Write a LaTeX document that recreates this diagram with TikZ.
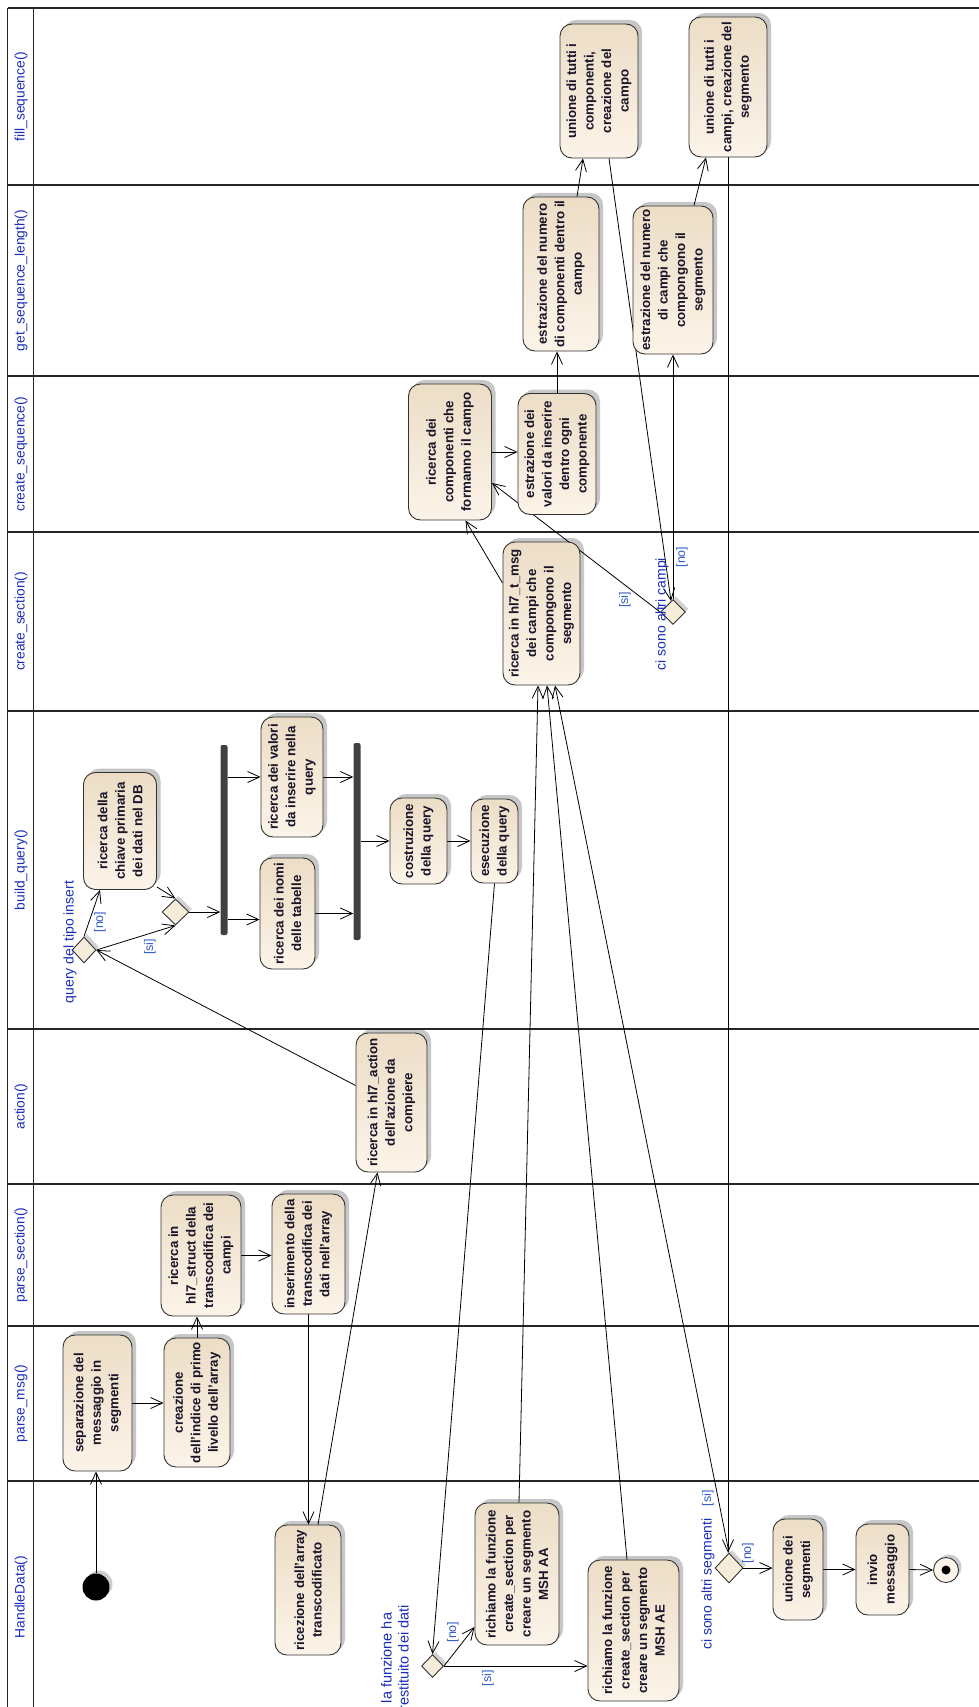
\documentclass[tikz,border=0pt]{standalone}
\usepackage{fontspec}
\setmainfont{Liberation Sans}
\usetikzlibrary{arrows.meta,shapes.geometric,shadows,calc}
\definecolor{boxtop}{RGB}{236,221,198}
\definecolor{boxbot}{RGB}{252,244,233}
\definecolor{boxborder}{RGB}{50,50,50}
\definecolor{decfill}{RGB}{246,236,218}
\definecolor{barcol}{RGB}{64,64,64}
\definecolor{lanecol}{RGB}{25,45,185}
\definecolor{guardcol}{RGB}{45,90,200}
\definecolor{nodetext}{RGB}{25,20,40}
\pgfdeclarelayer{bg}
\pgfsetlayers{bg,main}
\tikzset{
  actbox/.style={rectangle, rounded corners=12pt, draw=boxborder, line width=0.9pt,
    top color=boxtop, bottom color=boxbot, inner sep=0pt,
    drop shadow={shadow xshift=4pt, shadow yshift=4pt, fill=black, opacity=0.22}},
  atext/.style={rotate=90, align=center, font=\fontsize{13.3}{17.5}\selectfont\bfseries,
    text=nodetext, inner sep=0pt},
  dec/.style={diamond, draw=boxborder, line width=0.9pt, fill=decfill, inner sep=0pt,
    drop shadow={shadow xshift=3pt, shadow yshift=3pt, fill=black, opacity=0.18}},
  flow/.style={draw=black, line width=0.8pt, -{Straight Barb[length=12pt,width=11pt]}},
  guard/.style={rotate=90, font=\fontsize{12.5}{14}\selectfont, text=guardcol, inner sep=0pt},
  dlabel/.style={rotate=90, align=center, font=\fontsize{14}{17}\selectfont, text=lanecol, inner sep=0pt},
  lname/.style={rotate=90, font=\fontsize{13.8}{16}\selectfont, text=lanecol, inner sep=0pt},
  barbox/.style={rectangle, fill=barcol, rounded corners=2pt, inner sep=0pt, minimum width=7pt},
  laneline/.style={draw=black!85, line width=1.5pt}
}
\begin{document}
\begin{tikzpicture}[x=1pt,y=-1pt]
\useasboundingbox (0,0) rectangle (979,1707);
\clip (0,0) rectangle (979,1707);

% ---------- lane names
\node[lname] (n1) at (21,96.5) {fill\_sequence()};
\node[lname] (n2) at (21,280.5) {get\_sequence\_length()};
\node[lname] (n3) at (21,454) {create\_sequence()};
\node[lname] (n4) at (21,621.5) {create\_section()};
\node[lname] (n5) at (21,870) {build\_query()};
\node[lname] (n6) at (21,1106.5) {action()};
\node[lname] (n7) at (21,1255) {parse\_section()};
\node[lname] (n8) at (21,1403.5) {parse\_msg()};
\node[lname] (n9) at (21,1597) {HandleData()};

% ---------- activity boxes
\node[actbox, minimum width=78pt, minimum height=134pt] (u1) at (599,91) {};
\node[atext] (u1t) at (u1) {unione di tutti i\\componenti,\\creazione del\\campo};
\node[actbox, minimum width=78pt, minimum height=140pt] (u2) at (728,87) {};
\node[atext] (u2t) at (u2) {unione di tutti i\\campi, creazione del\\segmento};
\node[actbox, minimum width=76pt, minimum height=154pt] (e1) at (561,274) {};
\node[atext] (e1t) at (e1) {estrazione del numero\\di componenti dentro il\\campo};
\node[actbox, minimum width=80pt, minimum height=148pt] (e2) at (673,280) {};
\node[atext] (e2t) at (e2) {estrazione del numero\\di campi che\\compongono il\\segmento};
\node[actbox, minimum width=83pt, minimum height=136pt] (r1) at (450,452) {};
\node[atext] (r1t) at (r1) {ricerca dei\\componenti che\\formanno il campo};
\node[actbox, minimum width=78pt, minimum height=121pt] (r2) at (557,454) {};
\node[atext] (r2t) at (r2) {estrazione dei\\valori da inserire\\dentro ogni\\componente};
\node[actbox, minimum width=77pt, minimum height=143pt] (c1) at (541.5,613.5) {};
\node[atext] (c1t) at (c1) {ricerca in hl7\_t\_msg\\dei campi che\\compongono il\\segmento};
\node[actbox, minimum width=73pt, minimum height=117pt] (ch) at (120,831) {};
\node[atext] (cht) at (ch) {ricerca della\\chiave primaria\\dei dati nel DB};
\node[actbox, minimum width=62pt, minimum height=120pt] (val) at (292,777) {};
\node[atext] (valt) at (val) {ricerca dei valori\\da inserire nella\\query};
\node[actbox, minimum width=55pt, minimum height=111pt] (nom) at (287.5,913.5) {};
\node[atext] (nomt) at (nom) {ricerca dei nomi\\delle tabelle};
\node[actbox, minimum width=57pt, minimum height=86pt] (cos) at (418.5,841) {};
\node[atext] (cost) at (cos) {costruzione\\della query};
\node[actbox, minimum width=47pt, minimum height=84pt] (ese) at (494.5,841) {};
\node[atext] (eset) at (ese) {esecuzione\\della query};
\node[actbox, minimum width=71pt, minimum height=139pt] (actn) at (391.5,1102.5) {};
\node[atext] (actt) at (actn) {ricerca in hl7\_action\\dell'azione da\\compiere};
\node[actbox, minimum width=80pt, minimum height=121pt] (hst) at (201,1255.5) {};
\node[atext] (hstt) at (hst) {ricerca in\\hl7\_struct della\\transcodifica dei\\campi};
\node[actbox, minimum width=73pt, minimum height=120pt] (ins) at (308.5,1254) {};
\node[atext] (inst) at (ins) {inserimento della\\transcodifica dei\\dati nell'array};
\node[actbox, minimum width=69pt, minimum height=136pt] (sep) at (97.5,1403) {};
\node[atext] (sept) at (sep) {separazione del\\messaggio in\\segmenti};
\node[actbox, minimum width=66pt, minimum height=129pt] (cre) at (197,1402.5) {};
\node[atext] (cret) at (cre) {creazione\\dell'indice di primo\\livello dell'array};
\node[actbox, minimum width=66pt, minimum height=130pt] (ric) at (308,1590) {};
\node[atext] (rict) at (ric) {ricezione dell'array\\transcodificato};
\node[actbox, minimum width=84pt, minimum height=142pt] (maa) at (517,1574) {};
\node[atext] (maat) at (maa) {richiamo la funzione\\create\_section per\\creare un segmento\\MSH AA};
\node[actbox, minimum width=91pt, minimum height=141pt] (mae) at (633.5,1630.5) {};
\node[atext] (maet) at (mae) {richiamo la funzione\\create\_section per\\creare un segmento\\MSH AE};
\node[actbox, minimum width=50pt, minimum height=101pt] (uni) at (798,1569.5) {};
\node[atext] (unit) at (uni) {unione dei\\segmenti};
\node[actbox, minimum width=53pt, minimum height=91pt] (inv) at (882.5,1569.5) {};
\node[atext] (invt) at (inv) {invio\\messaggio};

% ---------- decisions, bars, start/end
\node[dec, minimum width=24pt, minimum height=26pt] (d1) at (84,950) {};
\node[dec, minimum width=27pt, minimum height=26pt] (d5) at (175.5,912) {};
\node[dec, minimum width=25pt, minimum height=25pt] (d2) at (673,612) {};
\node[dec, minimum width=22pt, minimum height=23pt] (d3) at (432.5,1666) {};
\node[dec, minimum width=28pt, minimum height=30pt] (d4) at (729,1568) {};
\node[barbox, minimum height=190pt] (fork1) at (224,840) {};
\node[barbox, minimum height=197pt] (join) at (357,841.5) {};
\node[circle, fill=black, minimum width=26pt, minimum height=27pt, inner sep=0pt,
  drop shadow={shadow xshift=3pt, shadow yshift=3pt, fill=black, opacity=0.2}] (init) at (96,1587) {};
\node[circle, draw=boxborder, line width=0.9pt, fill=boxbot, minimum size=25pt, inner sep=0pt,
  drop shadow={shadow xshift=3pt, shadow yshift=3pt, fill=black, opacity=0.2}] (fin) at (946,1570) {};
\node[circle, fill=black, minimum size=9pt, inner sep=0pt] (fdot) at (fin) {};

% ---------- guard and decision labels
\node[guard] (g1) at (100,922) {[no]};
\node[guard] (g2) at (150,947) {[si]};
\node[guard] (g3) at (453,1632) {[no]};
\node[guard] (g4) at (488,1678) {[si]};
\node[guard] (g5) at (682,557) {[no]};
\node[guard] (g6) at (625,600) {[si]};
\node[guard] (g7) at (708,1498) {[si]};
\node[guard] (g8) at (748,1553) {[no]};
\node[dlabel] (l1) at (70,942) {query del tipo insert};
\node[dlabel] (l2) at (662,614) {ci sono altri campi};
\node[dlabel] (l3) at (708,1584) {ci sono altri segmenti};
\node[dlabel, font=\fontsize{14.5}{17}\selectfont] (l4) at (395,1658) {la funzione ha\\restituito dei dati};

\begin{pgfonlayer}{bg}
\foreach \yy in {8,185,376,532,711,1029,1184,1326,1481}
  \draw[laneline] (7.5,\yy) -- (979,\yy);
\draw[laneline] (7.5,8) -- (7.5,1707);
\draw[laneline] (33.5,8) -- (33.5,1707);

\draw[flow] (init.north) -- (init.north |- sep.south);
\draw[flow] (sep.east) -- (sep.east -| cre.west);
\draw[flow] (cre.north) -- (cre.north |- hst.south);
\draw[flow] (hst.east) -- (hst.east -| ins.west);
\draw[flow] (ins.south) -- (ins.south |- ric.north);
\draw[flow] ([xshift=10pt]ric.north) -- ([xshift=-14pt]actn.south);
\draw[flow] ([yshift=17pt]actn.west) -- (d1.east);
\draw[flow] (d1.north) -- ([xshift=-20pt]ch.south);
\draw[flow] (d1.east) -- (d5.south);
\draw[flow] ([yshift=3pt]ch.south east) -- (d5.north);
\draw[flow] (d5.east) -- (d5.east -| fork1.west);
\draw[flow] (fork1.east |- val.west) -- (val.west);
\draw[flow] ($(fork1.east |- nom.west)+(0,6)$) -- ($(nom.west)+(0,6)$);
\draw[flow] (val.east) -- (val.east -| join.west);
\draw[flow] (nom.east) -- (nom.east -| join.west);
\draw[flow] (join.east |- cos.west) -- (cos.west);
\draw[flow] (cos.east) -- (ese.west);
\draw[flow] (ese.south) -- (d3.north);
\draw[flow] (d3.east) -- ([yshift=-53pt]maa.west);
\draw[flow] (d3.east) -- (d3.east -| mae.west);
\draw[flow] ([xshift=2pt]maa.north) -- ([xshift=-3.5pt]c1.south);
\draw[flow] ([xshift=-6.5pt]mae.north) -- ([xshift=5.5pt]c1.south);
\draw[flow] (d4.north) -- ([xshift=13.5pt]c1.south);
\draw[flow] (u2.south) -- (u2.south |- d4.north);
\draw[flow] (d4.east) -- (d4.east -| uni.west);
\draw[flow] (uni.east) -- (inv.west);
\draw[flow] (inv.east) -- (fin.west);
\draw[flow] ([yshift=30.5pt]c1.west) -- ([xshift=15.5pt]r1.south);
\draw[flow] (r1.east) -- (r1.east -| r2.west);
\draw[flow] (r2.north) -- (r2.north |- e1.south);
\draw[flow] ([xshift=16pt]e1.north) -- ([xshift=-16pt]u1.south);
\draw[flow] ([xshift=10pt]u1.south) -- ([xshift=-2pt,yshift=-2pt]d2.north);
\draw[flow] (d2.north) -- (d2.north |- e2.south);
\draw[flow] (d2.west) -- ([yshift=-31pt]r1.east);
\draw[flow] ([xshift=21pt]e2.north) -- ([xshift=-22pt]u2.south);
\end{pgfonlayer}
\end{tikzpicture}
\end{document}
